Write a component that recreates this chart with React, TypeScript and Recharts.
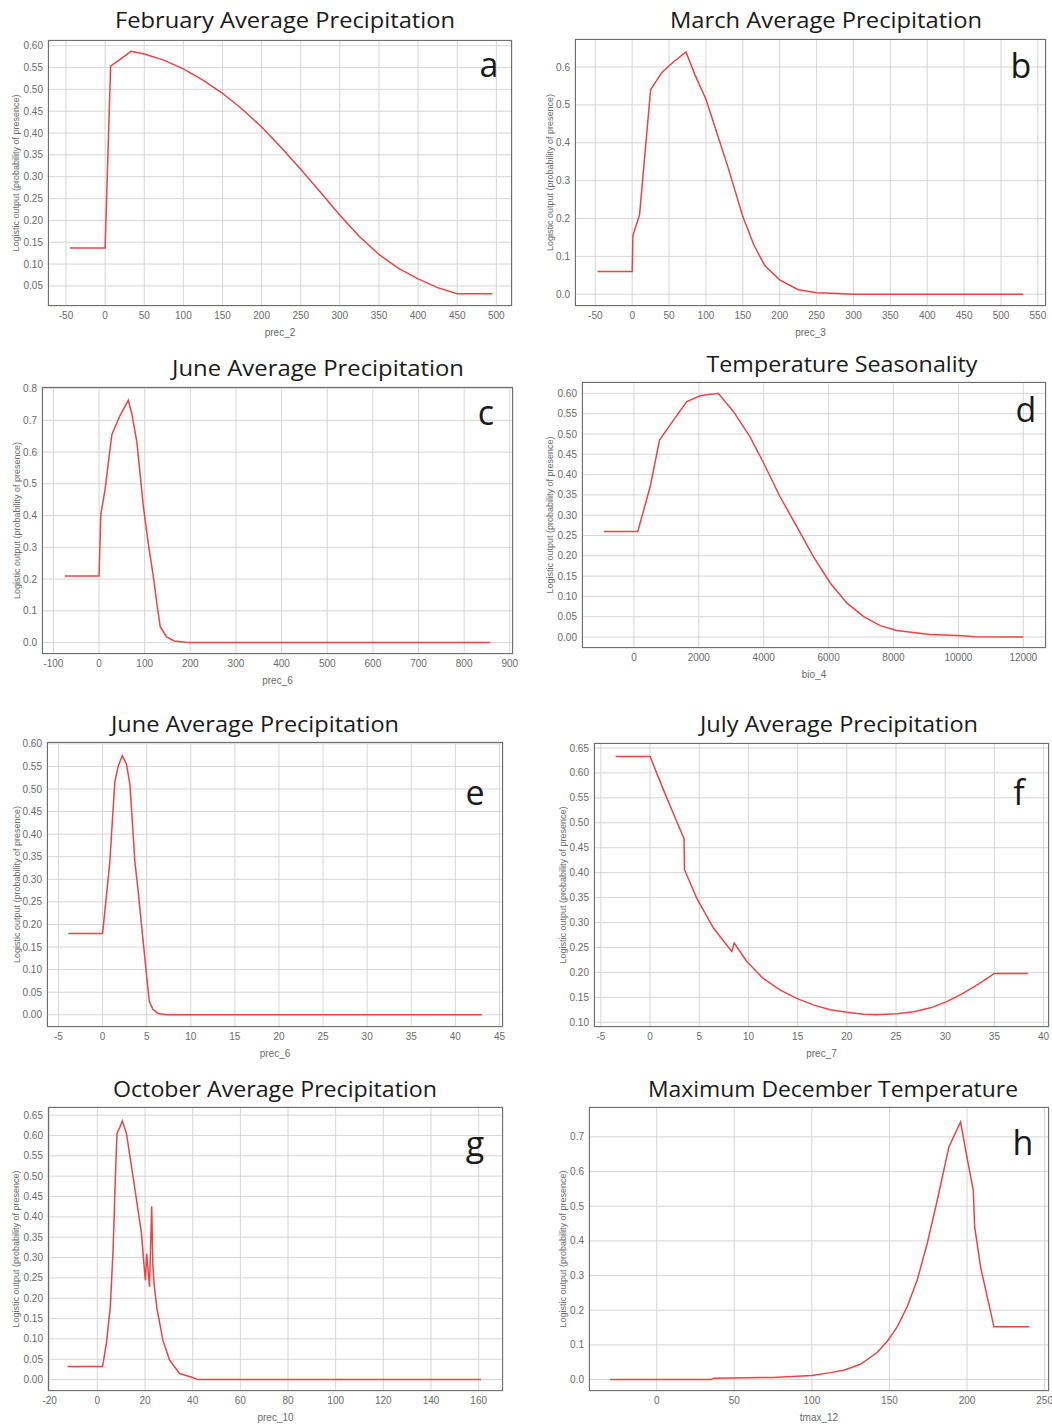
import React from "react";
import { CartesianGrid, Line, LineChart, XAxis, YAxis } from "recharts";

// response curves, [x, logistic output]
const prec2Curve = [
  [-45, 0.137], [0, 0.137], [7, 0.553], [20, 0.57], [33, 0.587], [50, 0.581],
  [75, 0.567], [100, 0.547], [125, 0.521], [150, 0.491], [175, 0.455], [200, 0.414],
  [225, 0.367], [250, 0.317], [275, 0.265], [300, 0.212], [325, 0.163], [350, 0.122],
  [375, 0.09], [400, 0.066], [425, 0.046], [450, 0.032], [495, 0.032],
];
const prec3Curve = [
  [-47, 0.06], [0, 0.06], [1, 0.155], [10, 0.21], [25, 0.54], [40, 0.585], [55, 0.612],
  [73, 0.64], [85, 0.58], [100, 0.515], [115, 0.425], [130, 0.335], [150, 0.205],
  [165, 0.13], [180, 0.075], [200, 0.038], [225, 0.012], [250, 0.004], [280, 0.002],
  [300, 0], [530, 0],
];
const prec6Curve = [
  [-75, 0.21], [0, 0.21], [4, 0.405], [13, 0.48], [28, 0.655], [46, 0.715], [64, 0.763],
  [72, 0.72], [83, 0.63], [97, 0.43], [108, 0.31], [119, 0.208], [127, 0.12], [134, 0.05],
  [148, 0.018], [165, 0.005], [190, 0.001], [200, 0], [857, 0],
];
const bio4Curve = [
  [-930, 0.26], [120, 0.26], [500, 0.37], [790, 0.485], [1220, 0.534], [1630, 0.58],
  [2040, 0.594], [2600, 0.6], [3070, 0.555], [3580, 0.493], [4000, 0.428], [4500, 0.346],
  [5020, 0.272], [5530, 0.198], [6050, 0.133], [6560, 0.084], [7070, 0.051], [7590, 0.028],
  [8100, 0.016], [9130, 0.006], [10150, 0.003], [10500, 0.001], [12000, 0],
];
const prec6bCurve = [
  [-3.9, 0.18], [0, 0.18], [0.45, 0.266], [0.83, 0.34], [1.13, 0.436], [1.4, 0.517],
  [1.77, 0.55], [2.23, 0.574], [2.7, 0.556], [3.1, 0.51], [3.4, 0.42], [3.66, 0.34],
  [4.04, 0.273], [4.53, 0.177], [4.98, 0.089], [5.3, 0.03], [5.7, 0.012], [6.3, 0.003],
  [7.3, 0], [43, 0],
];
const prec7Curve = [
  [-3.5, 0.633], [0, 0.633], [1.36, 0.566], [2.7, 0.503], [3.45, 0.468], [3.5, 0.406],
  [4.74, 0.349], [6.44, 0.289], [8.3, 0.242], [8.55, 0.259], [9.83, 0.222], [11.5, 0.188],
  [13.2, 0.165], [14.9, 0.148], [16.6, 0.135], [18.3, 0.125], [20, 0.12], [21.7, 0.116],
  [23, 0.115], [25.1, 0.117], [26.8, 0.121], [28.5, 0.129], [30.1, 0.141], [31.8, 0.158],
  [33.5, 0.178], [35, 0.198], [38.4, 0.198],
];
const prec10Curve = [
  [-12.5, 0.032], [2.2, 0.032], [3.8, 0.089], [5.45, 0.18], [6.6, 0.318], [7.7, 0.52],
  [8.25, 0.605], [9.4, 0.62], [10.5, 0.636], [12.2, 0.605], [15, 0.498], [18.5, 0.36],
  [19.9, 0.26], [20.2, 0.244], [20.7, 0.31], [21.9, 0.228], [22.8, 0.426], [23.3, 0.28],
  [23.8, 0.235], [25, 0.175], [27.5, 0.097], [30.3, 0.048], [34.5, 0.015], [40, 0.005],
  [42.2, 0], [161, 0],
];
const tmax12Curve = [
  [-30, 0], [35, 0], [37, 0.004], [75, 0.006], [100, 0.012], [112, 0.02], [120.6, 0.027],
  [131.3, 0.044], [142, 0.078], [148.5, 0.11], [155, 0.152], [161.4, 0.21], [167.9, 0.287],
  [174.3, 0.392], [180.8, 0.517], [188.3, 0.671], [195.8, 0.743], [200.1, 0.637],
  [204, 0.546], [204.9, 0.44], [208.7, 0.325], [217.3, 0.152], [240, 0.152],
];

// tick labels
const prec2Ticks = [-50, 0, 50, 100, 150, 200, 250, 300, 350, 400, 450, 500];
const prec3Ticks = [-50, 0, 50, 100, 150, 200, 250, 300, 350, 400, 450, 500, 550];
const prec6Ticks = [-100, 0, 100, 200, 300, 400, 500, 600, 700, 800, 900];
const bio4Ticks = [0, 2000, 4000, 6000, 8000, 10000, 12000];
const prec6bTicks = [-5, 0, 5, 10, 15, 20, 25, 30, 35, 40, 45];
const prec7Ticks = [-5, 0, 5, 10, 15, 20, 25, 30, 35, 40];
const prec10Ticks = [-20, 0, 20, 40, 60, 80, 100, 120, 140, 160];
const tmax12Ticks = [0, 50, 100, 150, 200, 250];

const yTicks05a = [0.05, 0.1, 0.15, 0.2, 0.25, 0.3, 0.35, 0.4, 0.45, 0.5, 0.55, 0.6];
const yTicks06 = [0, 0.1, 0.2, 0.3, 0.4, 0.5, 0.6];
const yTicks08 = [0, 0.1, 0.2, 0.3, 0.4, 0.5, 0.6, 0.7, 0.8];
const yTicks05b = [0, 0.05, 0.1, 0.15, 0.2, 0.25, 0.3, 0.35, 0.4, 0.45, 0.5, 0.55, 0.6];
const yTicks65 = [0.1, 0.15, 0.2, 0.25, 0.3, 0.35, 0.4, 0.45, 0.5, 0.55, 0.6, 0.65];
const yTicks65z = [0, 0.05, 0.1, 0.15, 0.2, 0.25, 0.3, 0.35, 0.4, 0.45, 0.5, 0.55, 0.6, 0.65];
const yTicks07 = [0, 0.1, 0.2, 0.3, 0.4, 0.5, 0.6, 0.7];

const panels = [
  {
    title: "February Average Precipitation", tx: 285, ty: 28, tw: 340,
    letter: "a", lx: 489, ly: 77,
    box: { l: 48, t: 40, r: 512, b: 306 }, labelX: 16,
    xDomain: [-73, 520], yDomain: [0.004, 0.613],
    xTicks: prec2Ticks, yTicks: yTicks05a, dec: 2, xLabel: "prec_2", data: prec2Curve,
  },
  {
    title: "March Average Precipitation", tx: 826, ty: 28, tw: 312,
    letter: "b", lx: 1021, ly: 78,
    box: { l: 575, t: 39, r: 1046, b: 306 }, labelX: 550,
    xDomain: [-77.5, 561], yDomain: [-0.031, 0.674],
    xTicks: prec3Ticks, yTicks: yTicks06, dec: 1, xLabel: "prec_3", data: prec3Curve,
  },
  {
    title: "June Average Precipitation", tx: 318, ty: 376, tw: 292,
    letter: "c", lx: 486, ly: 425,
    box: { l: 42, t: 387, r: 513, b: 654 }, labelX: 17,
    xDomain: [-125, 907], yDomain: [-0.036, 0.805],
    xTicks: prec6Ticks, yTicks: yTicks08, dec: 1, xLabel: "prec_6", data: prec6Curve,
  },
  {
    title: "Temperature Seasonality", tx: 842, ty: 372, tw: 271,
    letter: "d", lx: 1026, ly: 422,
    box: { l: 582, t: 382, r: 1046, b: 648 }, labelX: 550,
    xDomain: [-1600, 12700], yDomain: [-0.027, 0.628],
    xTicks: bio4Ticks, yTicks: yTicks05b, dec: 2, xLabel: "bio_4", data: bio4Curve,
  },
  {
    title: "June Average Precipitation", tx: 255, ty: 732, tw: 288,
    letter: "e", lx: 475, ly: 805,
    box: { l: 47, t: 742, r: 503, b: 1027 }, labelX: 17,
    xDomain: [-6.3, 45.4], yDomain: [-0.027, 0.604],
    xTicks: prec6bTicks, yTicks: yTicks05b, dec: 2, xLabel: "prec_6", data: prec6bCurve,
  },
  {
    title: "July Average Precipitation", tx: 839, ty: 732, tw: 278,
    letter: "f", lx: 1019, ly: 805,
    box: { l: 594, t: 743, r: 1049, b: 1027 }, labelX: 563,
    xDomain: [-5.7, 40.55], yDomain: [0.0906, 0.66],
    xTicks: prec7Ticks, yTicks: yTicks65, dec: 2, xLabel: "prec_7", data: prec7Curve,
  },
  {
    title: "October Average Precipitation", tx: 275, ty: 1097, tw: 324,
    letter: "g", lx: 475, ly: 1156,
    box: { l: 48, t: 1107, r: 503, b: 1391 }, labelX: 16,
    xDomain: [-20.7, 170.2], yDomain: [-0.028, 0.67],
    xTicks: prec10Ticks, yTicks: yTicks65z, dec: 2, xLabel: "prec_10", data: prec10Curve,
  },
  {
    title: "Maximum December Temperature", tx: 833, ty: 1097, tw: 370,
    letter: "h", lx: 1023, ly: 1155,
    box: { l: 589, t: 1107, r: 1049, b: 1391 }, labelX: 563,
    xDomain: [-43.6, 252.8], yDomain: [-0.033, 0.786],
    xTicks: tmax12Ticks, yTicks: yTicks07, dec: 1, xLabel: "tmax_12", data: tmax12Curve,
  },
];

const tickStyle = { fontSize: 10, fill: "#6a6a6a", fontFamily: "Liberation Sans, Arial, sans-serif" };
const PAD_TOP = 8;
const PAD_RIGHT = 14;

function Panel({ p }: { p: any }) {
  const chartLeft = p.labelX - 8;
  const yAxisW = p.box.l - chartLeft;
  const plotW = p.box.r - p.box.l;
  const plotH = p.box.b - p.box.t;
  const rows = p.data.map(([x, y]: number[]) => ({ x, y }));

  return (
    <>
      <div style={{ position: "absolute", left: chartLeft, top: p.box.t - PAD_TOP }}>
        <LineChart
          width={yAxisW + plotW + PAD_RIGHT}
          height={plotH + 34 + PAD_TOP}
          data={rows}
          margin={{ top: PAD_TOP, right: PAD_RIGHT, left: 0, bottom: 0 }}
        >
          <CartesianGrid stroke="#d6d6d6" />
          <XAxis
            type="number"
            dataKey="x"
            domain={p.xDomain}
            ticks={p.xTicks}
            allowDataOverflow
            interval={0}
            height={34}
            tickLine={false}
            axisLine={false}
            tickSize={0}
            tickMargin={6}
            tick={tickStyle}
            label={{
              value: p.xLabel,
              position: "insideBottom",
              offset: 4,
              fontSize: 10,
              fill: "#6a6a6a",
              fontFamily: "Liberation Sans, Arial, sans-serif",
            }}
          />
          <YAxis
            type="number"
            domain={p.yDomain}
            ticks={p.yTicks}
            allowDataOverflow
            interval={0}
            width={yAxisW}
            tickLine={false}
            axisLine={false}
            tickSize={0}
            tickMargin={5}
            tick={tickStyle}
            tickFormatter={(v: number) => v.toFixed(p.dec)}
            label={{
              value: "Logistic output (probability of presence)",
              angle: -90,
              position: "insideLeft",
              offset: 8,
              fontSize: 9,
              fill: "#6a6a6a",
              fontFamily: "Liberation Sans, Arial, sans-serif",
              style: { textAnchor: "middle" },
            }}
          />
          <Line
            type="linear"
            dataKey="y"
            stroke="#ec4444"
            strokeWidth={1.5}
            dot={false}
            isAnimationActive={false}
          />
        </LineChart>
      </div>
      <div
        style={{
          position: "absolute",
          left: p.box.l,
          top: p.box.t,
          width: plotW,
          height: plotH,
          border: "1.5px solid #6e6e6e",
          boxSizing: "border-box",
          pointerEvents: "none",
        }}
      />
    </>
  );
}

export default function App() {
  return (
    <div
      style={{
        position: "absolute",
        left: 0,
        top: 0,
        width: 1052,
        height: 1425,
        background: "#fff",
        overflow: "hidden",
      }}
    >
      {panels.map((p, i) => (
        <Panel key={i} p={p} />
      ))}
      <svg
        width={1052}
        height={1425}
        style={{ position: "absolute", left: 0, top: 0, pointerEvents: "none" }}
      >
        {panels.map((p, i) => (
          <g key={i} fontFamily="Open Sans, sans-serif" fill="#1a1a1a">
            <text x={p.tx} y={p.ty} fontSize={22} textAnchor="middle" textLength={p.tw} lengthAdjust="spacingAndGlyphs">
              {p.title}
            </text>
            <text x={p.lx} y={p.ly} fontSize={34} textAnchor="middle">
              {p.letter}
            </text>
          </g>
        ))}
      </svg>
    </div>
  );
}
